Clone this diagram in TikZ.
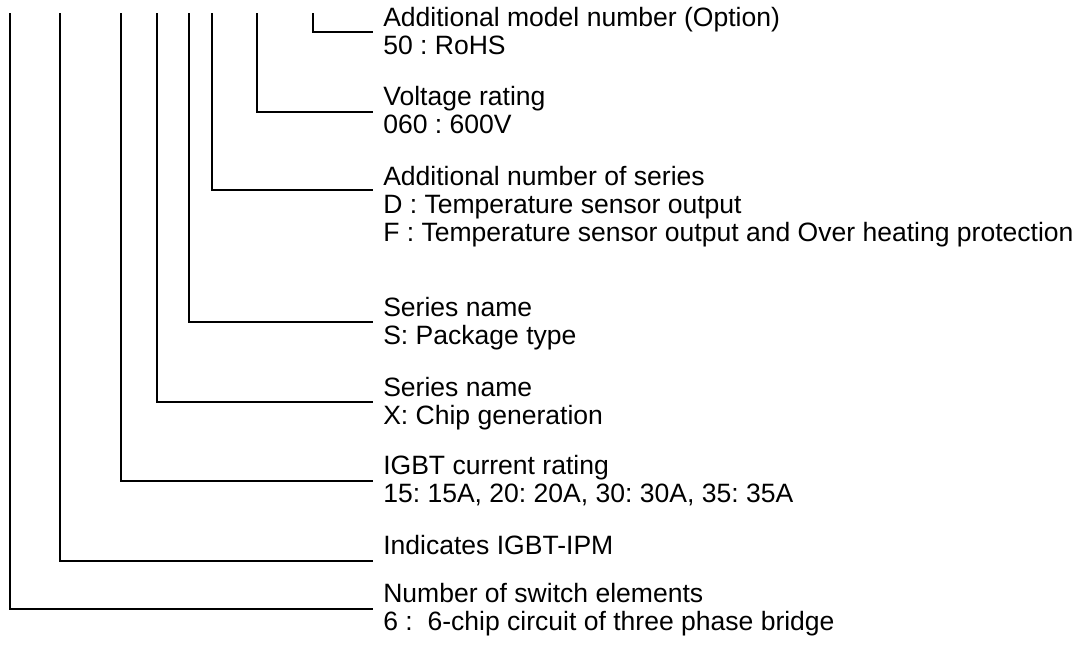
\documentclass[tikz,border=0pt]{standalone}
\usepackage{fontspec}
\setmainfont{Liberation Sans}
\usetikzlibrary{positioning}
\tikzset{
  lead/.style={line width=1.2pt,draw=black},
  desc/.style={font=\fontsize{19.9}{21}\selectfont\frenchspacing,align=left,anchor=base west,inner sep=0pt}
}
\begin{document}
\begin{tikzpicture}[x=0.75pt,y=-0.75pt]
  \useasboundingbox (0,0) rectangle (1085,644);

  % upper ends of the leads
  \foreach \n/\x in {sw/10,ipm/60,cur/121,gen/157,pkg/189,ser/212,volt/257,opt/313}
    \coordinate (t-\n) at (\x,13);

  % ends of the leads, next to the texts
  \foreach \n/\y in {opt/32,volt/112,ser/190,pkg/322,gen/402,cur/481,ipm/561,sw/609}
    \coordinate (e-\n) at (373,\y);

  % texts (placed at the baseline of their last line)
  \node[desc] (opt) at (383,54) {Additional model number (Option)\\50 : RoHS};
  \node[desc] (volt) at (383,133) {Voltage rating\\060 : 600V};
  \node[desc] (ser) at (383,241) {Additional number of series\\D : Temperature sensor output\\F : Temperature sensor output and Over heating protection};
  \node[desc] (pkg) at (383,344) {Series name\\S: Package type};
  \node[desc] (gen) at (383,424) {Series name\\X: Chip generation};
  \node[desc] (cur) at (383,502) {IGBT current rating\\15: 15A, 20: 20A, 30: 30A, 35: 35A};
  \node[desc] (ipm) at (383,554) {Indicates IGBT-IPM};
  \node[desc] (sw) at (383,630) {Number of switch elements\\6 :~ 6-chip circuit of three phase bridge};

  \foreach \n in {opt,volt,ser,pkg,gen,cur,ipm,sw}
    \draw[lead] (t-\n) |- (e-\n);
\end{tikzpicture}
\end{document}
